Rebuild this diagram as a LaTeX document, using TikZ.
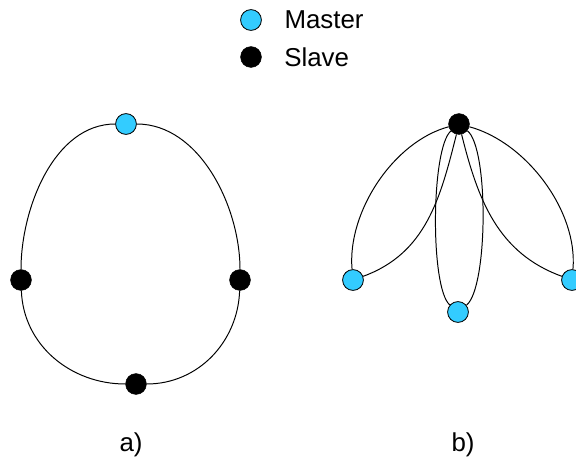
\documentclass[tikz,border=0pt]{standalone}
\usepackage{fontspec}
\setmainfont{Liberation Sans}
\usetikzlibrary{positioning}
\definecolor{masterblue}{RGB}{51,204,255}
\begin{document}
\begin{tikzpicture}[auto,
	master/.style={circle, minimum size=0.52cm, inner sep=0pt, fill=masterblue, draw, line width=0.6pt},
	slave/.style={circle, minimum size=0.52cm, inner sep=0pt, fill, draw},
	legend/.style={inner sep=0pt, font=\fontsize{18.4}{22}\selectfont}]

	\useasboundingbox (0,0) rectangle (14.4,11.475);

	% legend
	\node (mdot) [master] at (6.275, 10.975) {};
	\node (mtext) [legend, right=0.56cm of mdot] {Master};
	\node (sdot) [slave] at (6.275, 10.05) {};
	\node (stext) [legend, right=0.56cm of sdot] {Slave};

	% a) ring
	\node (m1) [master] at (3.15, 8.375) {};
	\node (sL) [slave] at (0.525, 4.475) {};
	\node (sR) [slave] at (6.0, 4.475) {};
	\node (sB) [slave] at (3.4, 1.875) {};

	\path[line width=0.7pt]
	(m1) edge[out=0, in=90, looseness=0.9] (sR)
	(sR) edge[out=-92, in=0] (sB)
	(sB) edge[out=180, in=-88] (sL)
	(sL) edge[out=90, in=180, looseness=0.9] (m1);

	% b) star
	\node (s0) [slave] at (11.475, 8.375) {};
	\node (mL) [master] at (8.825, 4.475) {};
	\node (mB) [master] at (11.45, 3.675) {};
	\node (mR) [master] at (14.3, 4.475) {};

	\path[line width=0.7pt]
	(s0) edge[out=195, in=95, looseness=0.85] (mL)
	(mL) edge[out=20, in=-104] (s0)
	(s0) edge[controls={+(-0.7,-0.6) and +(-0.7,0.6)}] (mB)
	(s0) edge[controls={+(0.75,-0.6) and +(0.75,0.6)}] (mB)
	(s0) edge[out=-15, in=85, looseness=0.85] (mR)
	(mR) edge[out=160, in=-76] (s0);

	\node (alabel) [legend, anchor=base] at (3.275, 0.2) {a)};
	\node (blabel) [legend, anchor=base] at (11.575, 0.2) {b)};

\end{tikzpicture}
\end{document}
